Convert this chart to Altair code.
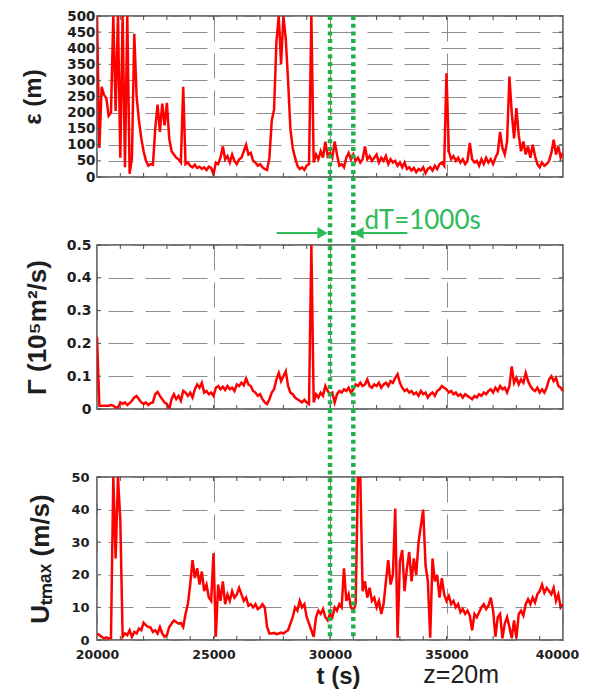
import altair as alt
import pandas as pd

# ---------------- data ----------------
T = list(range(20000, 40001, 100))

EPS = [
    500, 90, 280, 255, 245, 190, 200, 500, 205, 500,
    60, 500, 30, 500, 10, 60, 445, 250, 175, 120,
    80, 50, 35, 40, 38, 150, 225, 140, 228, 160,
    230, 120, 80, 70, 60, 55, 45, 280, 40, 45,
    35, 30, 38, 28, 32, 25, 30, 22, 32, 28,
    8, 45, 40, 60, 95, 55, 65, 45, 70, 50,
    40, 55, 60, 80, 100, 70, 75, 50, 45, 35,
    40, 30, 25, 22, 60, 175, 210, 420, 500, 350,
    500, 430, 300, 150, 90, 60, 35, 25, 30, 22,
    35, 40, 500, 45, 70, 55, 80, 60, 110, 65,
    75, 60, 110, 70, 35, 40, 30, 60, 75, 55,
    70, 50, 60, 45, 55, 95, 55, 65, 50, 60,
    70, 45, 60, 50, 65, 40, 55, 45, 50, 35,
    45, 30, 45, 25, 30, 20, 28, 15, 25, 20,
    30, 12, 25, 30, 20, 35, 25, 40, 45, 35,
    322, 80, 55, 65, 50, 60, 45, 55, 40, 50,
    106, 55, 45, 50, 35, 55, 40, 60, 45, 55,
    40, 60, 75, 140, 90, 70, 110, 312, 200, 120,
    214, 130, 80, 110, 70, 95, 60, 100, 65, 40,
    30, 45, 35, 40, 50, 75, 116, 70, 95, 60,
    75,
]

GAM = [
    0.22, 0.01, 0.01, 0.01, 0.01, 0.01, 0.012, 0.01, 0.005, 0.004,
    0.02, 0.015, 0.02, 0.012, 0.018, 0.025, 0.035, 0.04, 0.03, 0.02,
    0.015, 0.02, 0.012, 0.018, 0.02, 0.045, 0.052, 0.04, 0.03, 0.02,
    0.015, 0.0, 0.03, 0.045, 0.03, 0.04, 0.025, 0.055, 0.05, 0.04,
    0.05, 0.035, 0.06, 0.075, 0.065, 0.08, 0.05, 0.055, 0.045, 0.05,
    0.04, 0.065, 0.07, 0.06, 0.068, 0.058, 0.07, 0.06, 0.065, 0.055,
    0.075, 0.07, 0.08, 0.072, 0.093, 0.075, 0.07, 0.055, 0.05, 0.04,
    0.045, 0.03, 0.02, 0.015, 0.03, 0.05, 0.06, 0.09, 0.11, 0.085,
    0.1, 0.115, 0.07, 0.05, 0.045, 0.035, 0.03, 0.025, 0.02, 0.028,
    0.02, 0.015, 0.5, 0.02, 0.045, 0.035, 0.05, 0.04, 0.07, 0.055,
    0.045, 0.05, 0.02, 0.045, 0.055, 0.05, 0.06, 0.055, 0.065, 0.05,
    0.06, 0.075, 0.07, 0.08, 0.07, 0.075, 0.09, 0.07, 0.065, 0.075,
    0.07, 0.08, 0.065, 0.075, 0.08, 0.07, 0.085, 0.08, 0.095, 0.106,
    0.08, 0.065, 0.055, 0.06, 0.05, 0.055, 0.045, 0.05, 0.04, 0.055,
    0.045, 0.05, 0.035, 0.045, 0.05, 0.04, 0.055, 0.06, 0.07, 0.065,
    0.06, 0.05, 0.055, 0.045, 0.05, 0.04, 0.045, 0.035, 0.045, 0.04,
    0.035, 0.03, 0.04, 0.035, 0.045, 0.04, 0.05, 0.045, 0.055, 0.06,
    0.05, 0.065, 0.055, 0.07, 0.06, 0.065, 0.05, 0.07, 0.13, 0.08,
    0.095, 0.075, 0.09, 0.08, 0.11, 0.085, 0.07, 0.06, 0.055, 0.065,
    0.05, 0.06, 0.05, 0.065, 0.09, 0.1, 0.085, 0.095, 0.07, 0.065,
    0.055,
]

UTM = [
    2, 1.5, 1, 0.5, 0.8, 0.5, 0.6, 50, 25, 50,
    37, 1, 2, 1.5, 3, 1, 2.5, 2, 3.5, 3,
    5.3, 4.5, 4, 3.8, 2.5, 3, 2, 4, 2, 1,
    1.5, 4, 5, 6, 5.5, 5, 5.2, 4, 8, 11,
    17, 24.5, 19, 22, 17, 21, 15, 17, 13, 12,
    26.6, 1, 17, 12, 18, 11, 14, 12, 15, 13,
    14, 16, 14, 12, 13, 10.5, 11, 10, 11, 9.5,
    10, 11, 10, 4, 2, 2, 2.2, 1.8, 2, 2.3,
    2, 2.5, 3, 5, 7, 10, 9, 12, 10, 11,
    7, 5, 3, 1, 7, 9, 8, 9.5, 7, 6,
    8, 7, 10, 9, 11, 10, 22, 12, 14, 10,
    9, 11, 50, 50, 15, 18, 13, 16, 12, 13,
    10, 12, 8, 11, 18, 24.5, 17, 20, 40.3, 0.7,
    24, 27.6, 15, 22, 27, 18, 25, 20, 30, 35,
    40, 23, 18, 0.7, 25, 18, 20, 13, 19, 14,
    12, 13.5, 11, 12, 10, 11, 8.5, 9.5, 8, 9,
    7.5, 3, 8, 7, 8.5, 10, 11, 9.5, 10.5, 13,
    9, 1, 7, 8, 0.5, 5, 7, 4, 0.5, 6,
    0.5, 8, 9, 7.5, 11, 12.5, 11, 13, 11.5, 14,
    15, 17, 14.5, 16, 15, 14, 16, 12, 14, 10,
    11,
]

X_DOMAIN = [20000, 40000]
X_LABELS = [20000, 25000, 30000, 35000, 40000]
X_TICKS = [21000, 22000, 23000, 24000, 25000, 26000, 27000, 28000, 29000, 30000,
           31000, 32000, 33000, 34000, 35000, 36000, 37000, 38000, 39000]
EPS_TICKS = [0, 50, 100, 150, 200, 250, 300, 350, 400, 450, 500]
GAM_TICKS = [0, 0.1, 0.2, 0.3, 0.4, 0.5]
U_TICKS = [0, 10, 20, 30, 40, 50]
GREEN_T = [30000, 31000]
ARROW_FROM = [27710, 33320]
ARROW_TO = [29700, 31250]
ARROW_HEAD = [29680, 31220]
ARROW_SHAPE = ["triangle-right", "triangle-left"]
DT_TEXT = "dT=1000s"
DT_X = 31478
Z_TEXT = "z=20m"
Z_X = 35630

df = pd.DataFrame({"t": T, "eps": EPS, "gam": GAM, "u": UTM})

# ---------------- style ----------------
W = 466
GAP = 68
RED = "#ff0000"
GREEN = "#1fb04c"
GREEN2 = "#2dbb58"
FRAME = "#4a4a4a"
GRID = "#8c8c8c"
DASH = [25, 12]
LFONT = "DejaVu Sans"
TFONT = "Liberation Sans"
INK = "#1e1e1e"

xs = alt.Scale(domain=X_DOMAIN, nice=False, zero=False)
LAST_LABEL_SHIFT = {"condition": {"test": "datum.value >= 40000", "value": -6},
                    "value": 0}


def panel(field, ydom, yvals, yfmt, ytitle, h, title_x, lsize, lpad, tsize,
          top_ext, bottom=False, extras=None):
    ys = alt.Scale(domain=ydom, nice=False, zero=False)
    xkw = dict(values=X_LABELS, grid=True, gridDash=DASH, gridColor=GRID,
               gridWidth=1, ticks=False, domain=False, format="d",
               labelFlush=False)
    if bottom:
        xaxis = alt.Axis(labels=True, labelFont=LFONT, labelFontSize=12.5,
                         labelFontWeight="bold", labelColor=INK, labelPadding=8,
                         labelOffset=LAST_LABEL_SHIFT,
                         title="t (s)", titleFont=TFONT, titleFontSize=24,
                         titleFontWeight="bold", titleColor=INK, titleX=241,
                         titleY=43, titleBaseline="alphabetic", **xkw)
    else:
        xaxis = alt.Axis(labels=False, title=None, **xkw)
    yaxis = alt.Axis(values=yvals, format=yfmt, grid=True, gridDash=DASH,
                     gridDashOffset=26, gridColor=GRID, gridWidth=1, ticks=False,
                     domain=False, labelFont=LFONT, labelFontSize=lsize,
                     labelFontWeight="bold", labelColor=INK, labelPadding=lpad,
                     labelFlush=False,
                     title=ytitle, titleFont=TFONT, titleFontSize=tsize,
                     titleFontWeight="bold", titleColor=INK, titleX=title_x,
                     titleY=h / 2, titleAngle=270, titleBaseline="middle",
                     titleAlign="center")

    def X(f):
        return alt.X(f, scale=xs, axis=xaxis)

    def Y(f):
        return alt.Y(f, scale=ys, axis=yaxis)

    line = alt.Chart(df).mark_line(color=RED, strokeWidth=2.5, clip=True).encode(
        x=X("t:Q"), y=Y(f"{field}:Q"))
    xt = pd.DataFrame({"t": X_TICKS})
    yt = pd.DataFrame({field: yvals})
    tick_x_bot = alt.Chart(xt).mark_rule(color=FRAME, strokeWidth=1).encode(
        x=X("t:Q"), y=alt.value(h - 4), y2=alt.value(h))
    tick_x_top = alt.Chart(xt).mark_rule(color=FRAME, strokeWidth=1).encode(
        x=X("t:Q"), y=alt.value(0), y2=alt.value(4))
    tick_y_l = alt.Chart(yt).mark_rule(color=FRAME, strokeWidth=1).encode(
        y=Y(f"{field}:Q"), x=alt.value(0), x2=alt.value(4))
    tick_y_r = alt.Chart(yt).mark_rule(color=FRAME, strokeWidth=1).encode(
        y=Y(f"{field}:Q"), x=alt.value(W - 4), x2=alt.value(W))
    green = alt.Chart(pd.DataFrame({"t": GREEN_T})).mark_rule(
        color=GREEN, strokeWidth=4.5, strokeDash=[4, 3.7]).encode(
        x=X("t:Q"), y=alt.value(top_ext), y2=alt.value(h))
    layers = [line, tick_x_bot, tick_x_top, tick_y_l, tick_y_r, green]
    if extras is not None:
        layers += extras(X, h)
    return alt.layer(*layers).properties(width=W, height=h)


def dt_extras(X, h):
    arrow_df = pd.DataFrame({"t": ARROW_FROM, "t2": ARROW_TO, "th": ARROW_HEAD,
                             "shape": ARROW_SHAPE})
    arrows = alt.Chart(arrow_df).mark_rule(color=GREEN2, strokeWidth=2).encode(
        x=X("t:Q"), x2="t2:Q", y=alt.value(-12))
    heads = alt.Chart(arrow_df).mark_point(filled=True, color=GREEN2, size=140,
                                           opacity=1).encode(
        x=X("th:Q"), y=alt.value(-12), shape=alt.Shape("shape:N", scale=None))
    label = alt.Chart(pd.DataFrame({"t": [DT_X], "txt": [DT_TEXT]})).mark_text(
        align="left", baseline="alphabetic", font="Lato", fontSize=26,
        color=GREEN2).encode(x=X("t:Q"), y=alt.value(-16), text="txt:N")
    return [arrows, heads, label]


def z_extras(X, h):
    label = alt.Chart(pd.DataFrame({"t": [Z_X], "txt": [Z_TEXT]})).mark_text(
        align="center", baseline="alphabetic", font=TFONT, fontSize=25,
        color=INK).encode(x=X("t:Q"), y=alt.value(h + 43), text="txt:N")
    return [label]


H1, H2, H3 = 161, 164, 163

p1 = panel("eps", [0, 500], EPS_TICKS, "d", "ε (m)", H1, -64, 13.5, 2, 24, 0)
p2 = panel("gam", [0, 0.5], GAM_TICKS, "~g", "Γ (10⁵m²/s)", H2, -60, 14, 6, 26,
           -GAP, extras=dt_extras)
p3 = panel("u", [0, 50], U_TICKS, "d", "Uₜₘₐₓ (m/s)", H3, -57, 13, 8, 26,
           -GAP, bottom=True, extras=z_extras)

chart = alt.vconcat(p1, p2, p3, spacing=GAP, bounds="flush").properties(
    padding={"left": 12, "top": 0, "right": 0, "bottom": 0}
).configure_view(stroke=FRAME, strokeWidth=1.5)

chart.save("out.html", embed_options={"renderer": "svg", "actions": False})
